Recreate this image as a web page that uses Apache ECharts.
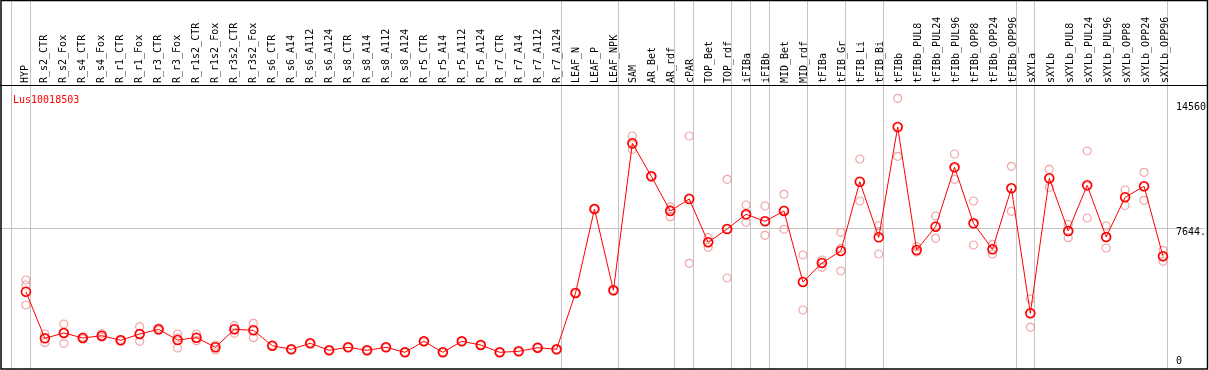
<!DOCTYPE html>
<html>
<head>
<meta charset="utf-8">
<script src="https://cdn.jsdelivr.net/npm/echarts@6/dist/echarts.min.js"></script>
<style>html,body{margin:0;padding:0;background:#fff}#c{width:1209px;height:370px}</style>
</head>
<body>
<div id="c"></div>
<script>
const title = 'Lus10018503';
const categories = ['HYP','R_s2_CTR','R_s2_Fox','R_s4_CTR','R_s4_Fox','R_r1_CTR','R_r1_Fox','R_r3_CTR','R_r3_Fox','R_r1s2_CTR','R_r1s2_Fox','R_r3s2_CTR','R_r3s2_Fox','R_s6_CTR','R_s6_A14','R_s6_A112','R_s6_A124','R_s8_CTR','R_s8_A14','R_s8_A112','R_s8_A124','R_r5_CTR','R_r5_A14','R_r5_A112','R_r5_A124','R_r7_CTR','R_r7_A14','R_r7_A112','R_r7_A124','LEAF_N','LEAF_P','LEAF_NPK','SAM','AR_Bet','AR_rdf','cPAR','TOP_Bet','TOP_rdf','iFIBa','iFIBb','MID_Bet','MID_rdf','tFIBa','tFIB_Gr','tFIB_Li','tFIB_Bi','tFIBb','tFIBb_PUL8','tFIBb_PUL24','tFIBb_PUL96','tFIBb_OPP8','tFIBb_OPP24','tFIBb_OPP96','sXYLa','sXYLb','sXYLb_PUL8','sXYLb_PUL24','sXYLb_PUL96','sXYLb_OPP8','sXYLb_OPP24','sXYLb_OPP96'];
const means = [3983,1305,1609,1322,1454,1190,1552,1822,1207,1339,787,1822,1764,879,672,1017,615,787,615,787,500,1132,500,1132,920,500,557,764,672,3908,8735,4063,12511,10615,8621,9310,6822,7586,8431,8029,8621,4540,5632,6322,10304,7109,13448,6379,7718,11132,7914,6419,9925,2741,10500,7471,10097,7126,9414,10040,6017];
const rep1 = [4655,1552,2126,1379,1580,1236,1971,1897,1552,1552,920,2029,2167,900,690,1040,640,805,640,805,520,1150,520,1150,940,520,575,785,690,3930,8760,4085,12931,10640,8868,12931,7086,10442,8965,8908,9580,6092,5804,7396,11609,7776,15097,6569,8333,11896,9195,6707,11189,3563,11017,7856,12069,7758,9827,10845,6362];
const rep2 = [4368,1052,1017,1264,1350,1149,1132,1753,747,1167,632,1592,1339,860,655,995,595,770,595,770,480,1115,480,1115,900,480,540,745,655,3885,8710,4040,12166,10590,8293,5615,6534,4770,7971,7224,7569,2931,5385,5172,9195,7431,11764,6322,7052,10442,6667,6149,8603,1937,9983,7086,8218,6494,8937,9235,5730];
const rep3 = [3218,1305,1609,1322,1437,1178,1552,1810,1322,1322,805,1839,1782,879,672,1017,615,787,615,787,500,1132,500,1132,920,500,557,764,672,3908,8735,4063,12437,10615,8700,9384,6839,7586,8391,8046,8678,4540,5632,6477,10287,6149,13448,6264,7758,11092,7873,6408,9942,2759,10517,7471,10057,7126,9425,10057,6034];
const groupEnds = [-1,0,28,31,34,35,37,38,39,41,43,45,52,53,60];
const yTicks = [0,7644,14560];
const midTick = 7644;

const PX = 7644 / 133; // value units per pixel
const FONT = 'DejaVu Sans Mono';
const repData = [];
[rep1, rep2, rep3].forEach(r => r.forEach((v, i) => repData.push([i, v])));
const meanData = means.map((v, i) => [i, v]);

const chart = echarts.init(document.getElementById('c'), null, {renderer: 'canvas'});
chart.setOption({
  animation: false,
  backgroundColor: '#fff',
  title: {text: title, left: 8, top: 90, textStyle: {color: '#ff0000', fontSize: 10, fontFamily: FONT, fontWeight: 'normal'}},
  grid: [
    {left: 0, right: 2, top: 0, bottom: 0},
    {left: 16, right: 34, top: 85, bottom: 1}
  ],
  xAxis: [
    {type: 'value', gridIndex: 0, min: -26 / 19, max: (1207 - 26) / 19, show: false},
    {type: 'category', gridIndex: 1, position: 'top', data: categories, z: 5,
     axisLine: {show: false}, axisTick: {show: false}, splitLine: {show: false},
     axisLabel: {interval: 0, rotate: 90, margin: 2, fontSize: 10, fontFamily: FONT, color: '#000'}}
  ],
  yAxis: [
    {type: 'value', gridIndex: 0, min: -9 * PX, max: 361 * PX, position: 'right', offset: -29, z: 5,
     axisLine: {show: false}, axisTick: {show: false}, splitLine: {show: false},
     axisLabel: {customValues: yTicks, margin: 1, fontSize: 10, fontFamily: FONT, color: '#000',
       formatter: v => v === midTick ? '{m|' + String(v) + '.}' : String(v),
       rich: {m: {padding: [9, 0, 0, 0], fontSize: 10, fontFamily: FONT, color: '#000'}}}},
    {type: 'value', gridIndex: 1, show: false}
  ],
  graphic: [
    {type: 'rect', shape: {x: 1, y: 0.5, width: 1206.5, height: 368.5}, style: {fill: null, stroke: '#000', lineWidth: 1.5}, z: 100, silent: true},
    {type: 'line', shape: {x1: 0, y1: 85.5, x2: 1208, y2: 85.5}, style: {stroke: '#000', lineWidth: 1}, z: 100, silent: true}
  ],
  series: [
    {type: 'line', xAxisIndex: 0, yAxisIndex: 0, data: [], silent: true, z: 0,
     markLine: {silent: true, symbol: ['none', 'none'], label: {show: false}, z: 0,
       lineStyle: {color: '#c4c4c4', width: 1, type: 'solid'},
       data: groupEnds.map(i => ({xAxis: i + 0.23})).concat([{yAxis: midTick}])}},
    {type: 'scatter', xAxisIndex: 0, yAxisIndex: 0, data: repData, symbol: 'circle', symbolSize: 8, z: 2,
     itemStyle: {color: 'rgba(0,0,0,0)', borderColor: '#ee9090', borderWidth: 1.2}},
    {type: 'line', xAxisIndex: 0, yAxisIndex: 0, data: meanData, symbol: 'circle', symbolSize: 9, showAllSymbol: true, z: 3,
     lineStyle: {color: '#ff0000', width: 1},
     itemStyle: {color: 'rgba(0,0,0,0)', borderColor: '#ff0000', borderWidth: 1.6}}
  ]
});
</script>
</body>
</html>
